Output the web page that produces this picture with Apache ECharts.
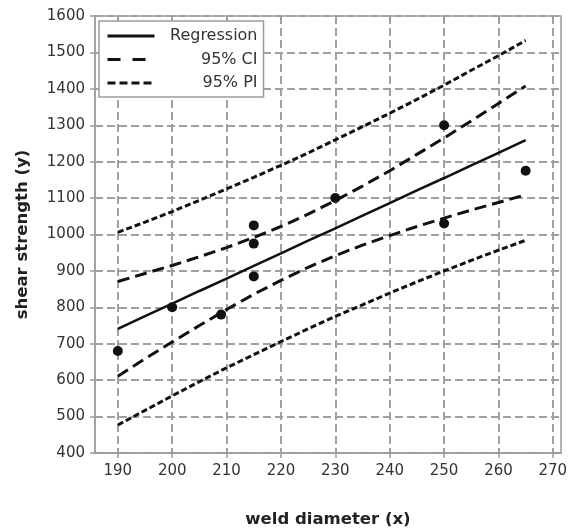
<!DOCTYPE html>
<html><head><meta charset="utf-8">
<script src="https://cdn.jsdelivr.net/npm/echarts@6/dist/echarts.min.js"></script>
<style>html,body{margin:0;padding:0;background:#fff}#c{width:578px;height:530px}</style>
</head><body><div id="c"></div>
<script>
// Observed data points
const weldDiameter = [190, 200, 209, 215, 215, 215, 230, 250, 265, 250];
const shearStrength = [680, 800, 780, 885, 975, 1025, 1100, 1030, 1175, 1300];
// Fitted line and bands
const bandX = [190, 195, 200, 205, 210, 215, 220, 225, 230, 235, 240, 245, 250, 255, 260, 265];
const regression = [741, 776, 810, 845, 879, 914, 948, 983, 1017, 1052, 1086, 1121, 1155, 1190, 1224, 1259];
const ciUpper = [871, 893, 915, 939, 964, 992, 1022, 1056, 1093, 1133, 1175, 1220, 1265, 1312, 1360, 1408];
const ciLower = [611, 659, 705, 750, 794, 836, 874, 910, 942, 971, 997, 1022, 1045, 1067, 1088, 1109];
const piUpper = [1006, 1034, 1063, 1094, 1125, 1157, 1190, 1224, 1260, 1296, 1333, 1371, 1410, 1451, 1491, 1533];
const piLower = [477, 517, 557, 596, 634, 670, 706, 741, 775, 807, 839, 870, 900, 929, 957, 984];
// Tick labels
const xTicks = [190, 200, 210, 220, 230, 240, 250, 260, 270];
const yTicks = [400, 500, 600, 700, 800, 900, 1000, 1100, 1200, 1300, 1400, 1500, 1600];

const FONT = 'DejaVu Sans';
const axisGray = '#9c9c9c';
const gridGray = '#a0a0a0';
const textColor = '#333333';
const ink = '#111111';
const pairs = (xs, ys) => xs.map((x, i) => [x, ys[i]]);
const noSymbol = {color: 'rgba(0,0,0,0)', borderWidth: 0, opacity: 0};

const chart = echarts.init(document.getElementById('c'), null, {renderer: 'canvas'});
const option = {
  animation: false,
  backgroundColor: '#ffffff',
  grid: {left: 95, right: 17, top: 16, bottom: 77, containLabel: false, outerBoundsMode: 'none',
    show: true, borderColor: axisGray, borderWidth: 1.5, backgroundColor: 'transparent'},
  legend: {
    left: 99, top: 21, orient: 'vertical',
    padding: [7, 6, 6, 7],
    itemWidth: 47, itemHeight: 14, itemGap: 7.5,
    backgroundColor: '#ffffff', borderColor: axisGray, borderWidth: 1.5, borderRadius: 0,
    z: 20,
    formatter: n => '{a|' + n + '}',
    textStyle: {fontFamily: FONT, fontSize: 16, color: textColor,
      rich: {a: {width: 98, align: 'right', fontFamily: FONT, fontSize: 16, color: textColor}}},
    data: [
      {name: 'Regression', itemStyle: noSymbol, lineStyle: {type: 'solid', width: 3, color: ink, opacity: 1}},
      {name: '95% CI', itemStyle: noSymbol, lineStyle: {type: [13, 12], width: 3, color: ink, opacity: 1}},
      {name: '95% PI', itemStyle: noSymbol, lineStyle: {type: [8, 4], width: 3, color: ink, opacity: 1}}
    ]
  },
  xAxis: [{
    type: 'value', position: 'bottom', min: 185.8, max: 271.5,
    minInterval: 10, maxInterval: 10,
    axisLine: {show: true, onZero: false, lineStyle: {color: axisGray, width: 1.5}},
    axisTick: {show: true, length: 5, customValues: xTicks, lineStyle: {color: axisGray, width: 1.5}},
    axisLabel: {customValues: xTicks, margin: 11, color: textColor, fontSize: 15, fontFamily: FONT,
      formatter: v => (xTicks.indexOf(v) >= 0 ? String(v) : '')},
    splitLine: {show: true, lineStyle: {color: gridGray, width: 2, type: [8, 4]}},
    name: 'weld diameter (x)', nameLocation: 'middle', nameGap: 58,
    nameTextStyle: {fontWeight: 'bold', fontSize: 16.5, color: '#222', fontFamily: FONT}
  }, {
    type: 'value', position: 'top', min: 185.8, max: 271.5,
    minInterval: 10, maxInterval: 10,
    axisLine: {show: false},
    axisTick: {show: true, inside: true, length: 5, customValues: xTicks, lineStyle: {color: axisGray, width: 1.5}},
    axisLabel: {show: false},
    splitLine: {show: false}
  }],
  yAxis: {
    type: 'value', min: 400, max: 1600, interval: 100,
    axisLine: {show: true, onZero: false, lineStyle: {color: axisGray, width: 1.5}},
    axisTick: {show: true, length: 5, lineStyle: {color: axisGray, width: 1.5}},
    axisLabel: {margin: 10, color: textColor, fontSize: 15, fontFamily: FONT,
      formatter: v => (yTicks.indexOf(v) >= 0 ? String(v) : '')},
    splitLine: {show: true, lineStyle: {color: gridGray, width: 2, type: [8, 4]}},
    name: 'shear strength (y)', nameLocation: 'middle', nameGap: 64,
    nameTextStyle: {fontWeight: 'bold', fontSize: 16.5, color: '#222', fontFamily: FONT}
  },
  series: [
    {name: '95% PI', type: 'line', symbol: 'none', data: pairs(bandX, piUpper), lineStyle: {color: ink, width: 3, type: [6, 3]}, itemStyle: {color: ink}, z: 3},
    {name: '95% PI', type: 'line', symbol: 'none', data: pairs(bandX, piLower), lineStyle: {color: ink, width: 3, type: [6, 3]}, itemStyle: {color: ink}, z: 3},
    {name: '95% CI', type: 'line', symbol: 'none', data: pairs(bandX, ciUpper), lineStyle: {color: ink, width: 3, type: [12, 6]}, itemStyle: {color: ink}, z: 3},
    {name: '95% CI', type: 'line', symbol: 'none', data: pairs(bandX, ciLower), lineStyle: {color: ink, width: 3, type: [12, 6]}, itemStyle: {color: ink}, z: 3},
    {name: 'Regression', type: 'line', symbol: 'none', data: pairs(bandX, regression), lineStyle: {color: ink, width: 2.6, type: 'solid'}, itemStyle: {color: ink}, z: 4},
    {name: 'Observed', type: 'scatter', symbol: 'circle', symbolSize: 10, data: pairs(weldDiameter, shearStrength), itemStyle: {color: ink, opacity: 1}, z: 5}
  ]
};
chart.setOption(option);
</script>
</body></html>
